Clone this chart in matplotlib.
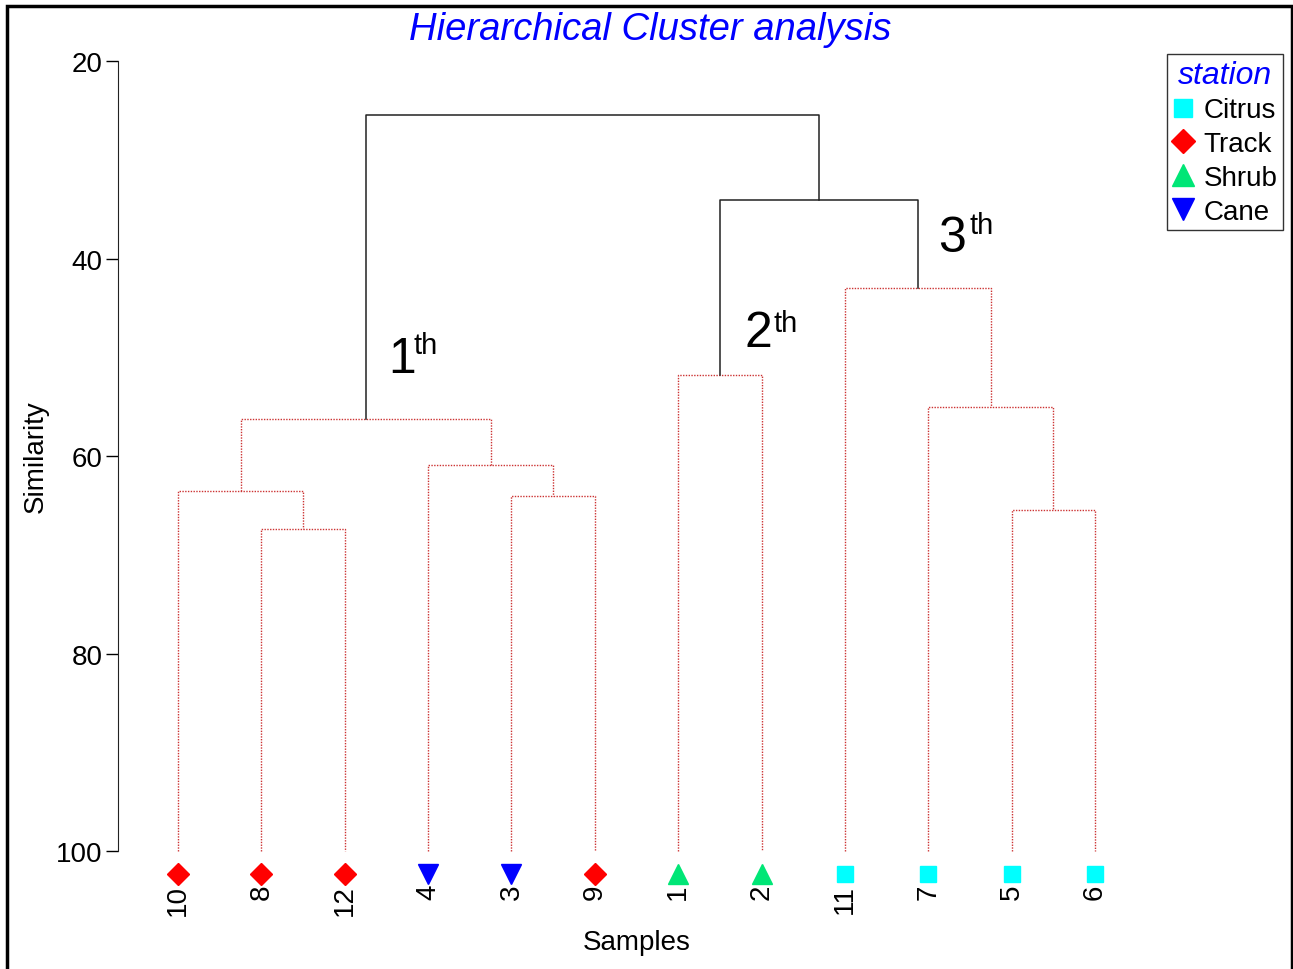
import matplotlib
matplotlib.use("Agg")
import matplotlib.pyplot as plt
from matplotlib.patches import Rectangle
from matplotlib.lines import Line2D

plt.rcParams['font.family'] = ['Liberation Sans', 'DejaVu Sans']

# leaves in dendrogram order and the station each sample came from
samples = [10, 8, 12, 4, 3, 9, 1, 2, 11, 7, 5, 6]
station = ['Track', 'Track', 'Track', 'Cane', 'Cane', 'Track',
           'Shrub', 'Shrub', 'Citrus', 'Citrus', 'Citrus', 'Citrus']

# merges: link i joins link_a[i] and link_b[i] at link_sim[i] and is called 'c{i+1}'
link_a = [8, 10, 3, 4, 'c2', 1, 5, 7, 11, 'c6', 'c5']
link_b = [12, 'c1', 9, 'c3', 'c4', 2, 6, 'c7', 'c8', 'c9', 'c10']
link_sim = [67.4, 63.5, 64.0, 60.9, 56.3, 51.8, 65.5, 55.0, 43.0, 34.1, 25.5]

stations = ['Citrus', 'Track', 'Shrub', 'Cane']
st_color = {'Citrus': '#00ffff', 'Track': '#ff0000', 'Shrub': '#00e676', 'Cane': '#0000ff'}
st_marker = {'Citrus': 's', 'Track': 'D', 'Shrub': '^', 'Cane': 'v'}
st_size = {'Citrus': 12, 'Track': 11, 'Shrub': 14, 'Cane': 14}

fig = plt.figure(figsize=(12.93, 9.70), dpi=100)
ax = fig.add_axes([0.09126, 0.08763, 0.79814, 0.84845])

# node positions: leaves sit at 100 % similarity
pos = {s: (i, 100.0) for i, s in enumerate(samples)}
for i, (a, b, sim) in enumerate(zip(link_a, link_b, link_sim)):
    xa, ya = pos[a]
    xb, yb = pos[b]
    if sim < 40:
        style = dict(color='#222222', lw=1.1, ls='-')
    else:
        style = dict(color='#cc3333', lw=1.0, ls=(0, (1, 1)))
    ax.plot([xa, xa, xb, xb], [ya, sim, sim, yb], **style)
    pos['c%d' % (i + 1)] = ((xa + xb) / 2, sim)

# station markers under each leaf
for i, st in enumerate(station):
    ax.plot(i, 102.3, marker=st_marker[st], color=st_color[st], ms=st_size[st],
            ls='none', clip_on=False)

ax.set_xlim(-0.7198, 11.66)
ax.set_ylim(103.34, 20)
ax.set_yticks([20, 40, 60, 80, 100])
ax.tick_params(axis='y', labelsize=20, length=9, width=1, direction='out', pad=2)
ax.set_xticks(range(len(samples)))
ax.set_xticklabels([str(s) for s in samples], rotation=90, fontsize=20)
ax.tick_params(axis='x', length=0, pad=0)
for side in ['top', 'right', 'bottom']:
    ax.spines[side].set_visible(False)
ax.spines['left'].set_bounds(20, 100)
ax.spines['left'].set_color('#222222')

ax.set_ylabel('Similarity', fontsize=20)
ax.yaxis.set_label_coords(-0.0675, 0.52)
fig.text(637 / 1293, 1 - 943 / 970, 'Samples', fontsize=20, ha='center', va='center')

# cluster labels
for n, x, y, xs, ys in [('1', 2.52, 51.5, 2.82, 47.3),
                        ('2', 6.80, 48.9, 7.14, 45.1),
                        ('3', 9.12, 39.2, 9.49, 35.2)]:
    ax.text(x, y, n, fontsize=36, va='baseline', ha='left')
    ax.text(xs, ys, 'th', fontsize=21, va='top', ha='left')

fig.text(650 / 1293, 1 - 30 / 970, 'Hierarchical Cluster analysis', fontsize=27.5,
         style='italic', color='#0000ff', ha='center', va='center')

handles = [Line2D([], [], marker=st_marker[s], color=st_color[s], ls='none',
                  ms=st_size[s] * 1.1) for s in stations]
leg = fig.legend(handles, stations, loc='upper right',
                 bbox_to_anchor=(1283 / 1293, 1 - 55 / 970), fontsize=20,
                 title='station', frameon=True, fancybox=False, borderaxespad=0,
                 handlelength=0.7, handletextpad=0.4, labelspacing=0.28,
                 borderpad=0.2, edgecolor='black')
leg.get_title().set_color('#0000ff')
leg.get_title().set_fontstyle('italic')
leg.get_title().set_fontsize(23)
leg.get_frame().set_linewidth(1.0)

# outer frame
fig.patches.append(Rectangle((7 / 1293, -0.05), 1285 / 1293, 1.05 - 7 / 970,
                             transform=fig.transFigure, fill=False, lw=2.5,
                             edgecolor='black'))

fig.savefig('out.png', dpi=100)
